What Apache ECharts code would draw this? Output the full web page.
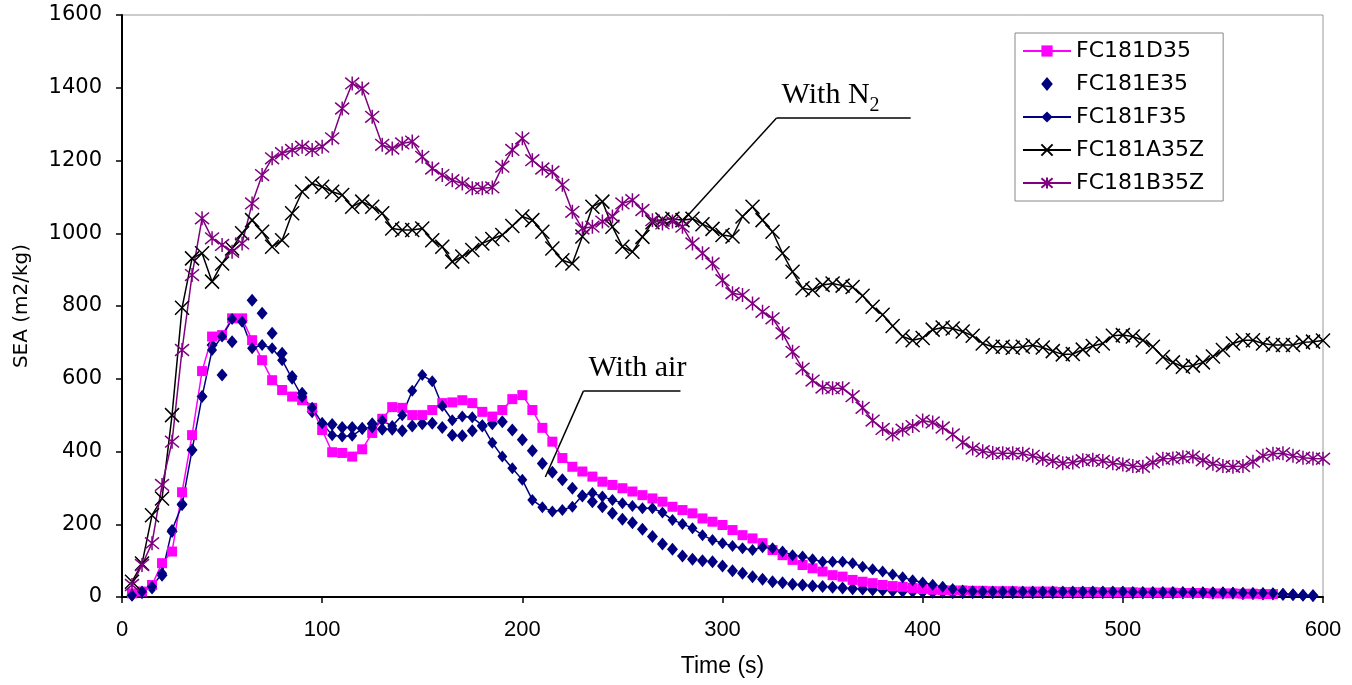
<!DOCTYPE html>
<html><head><meta charset="utf-8">
<script src="https://cdn.jsdelivr.net/npm/echarts@6/dist/echarts.min.js"></script>
<style>html,body{margin:0;padding:0;background:#fff}#c{width:1352px;height:685px}</style>
</head><body><div id="c"></div>
<script>
// Sampling times (s)
const time = [5,10,15,20,25,30,35,40,45,50,55,60,65,70,75,80,85,90,95,100,
105,110,115,120,125,130,135,140,145,150,155,160,165,170,175,180,185,190,195,200,
205,210,215,220,225,230,235,240,245,250,255,260,265,270,275,280,285,290,295,300,
305,310,315,320,325,330,335,340,345,350,355,360,365,370,375,380,385,390,395,400,
405,410,415,420,425,430,435,440,445,450,455,460,465,470,475,480,485,490,495,500,
505,510,515,520,525,530,535,540,545,550,555,560,565,570,575,580,585,590,595,600];

const seriesNames = ['FC181D35','FC181E35','FC181F35','FC181A35Z','FC181B35Z'];

const sD35 = [10,15,33,93,125,288,445,621,716,720,
766,766,706,651,596,569,551,541,520,459,
398,396,386,406,451,490,522,520,500,500,
514,533,535,541,533,509,496,514,544,555,
514,465,427,382,358,345,331,317,308,299,
290,280,271,262,248,239,230,216,207,198,
184,170,161,148,129,115,102,88,79,70,
60,56,47,42,38,33,30,28,25,22,
20,19,18,18,17,17,16,16,16,15,
15,15,15,14,14,14,14,13,13,13,
13,12,12,12,12,11,11,11,10,10,
10,9,9,8,8];

const sE35 = [5,12,25,60,180,255,404,551,693,610,
702,760,816,780,725,670,606,560,509,477,
474,466,466,464,476,461,461,457,470,476,
478,466,445,443,457,470,476,482,459,432,
402,367,343,322,299,278,262,248,230,214,
204,186,166,146,131,113,104,100,97,85,
72,65,56,49,42,39,35,33,30,29,
27,25,23,22,20,19,17,16,15,14,
13,13,12,12,12,12,12,12,12,12,
12,12,12,12,12,12,12,12,12,12,
11,11,11,11,11,11,11,11,10,10,
10,9,9,8,8,7,6,5,4];

const sF35 = [5,15,28,65,184,253,404,551,679,716,
764,757,684,693,684,651,600,550,520,478,
445,441,443,462,466,485,470,500,567,610,
593,525,486,496,494,472,424,386,354,322,
267,247,235,239,248,279,286,276,267,258,
250,244,244,232,212,201,189,170,157,148,
140,134,129,137,134,125,115,111,104,97,
97,97,93,83,76,70,62,54,46,40,
34,28,22,18,16,15,15,15,15,15,
15,15,15,15,15,15,15,15,15,15,
14,14,14,14,14,14,13,13,13,13,
12,12,11,11,10,9,7,5,3];

const sA35Z = [42,92,225,271,500,795,931,945,867,917,
958,1000,1036,1004,963,981,1055,1114,1137,1128,
1114,1105,1073,1087,1073,1055,1013,1009,1009,1013,
981,963,922,936,954,972,984,995,1020,1046,
1036,1004,958,926,917,991,1073,1087,1018,963,
949,990,1030,1038,1040,1036,1040,1025,1012,995,
991,1046,1073,1036,1004,945,894,849,844,858,
862,856,852,828,798,776,745,716,706,712,
735,741,738,730,718,697,688,688,685,688,
692,686,676,667,668,680,690,697,718,720,
716,706,688,660,645,633,636,645,661,679,
697,706,706,697,693,693,693,700,702,705];

const sB35Z = [33,88,148,308,427,679,885,1041,986,968,
949,972,1082,1160,1206,1220,1229,1238,1229,1238,
1261,1343,1412,1398,1320,1243,1233,1247,1252,1210,
1178,1160,1146,1137,1124,1124,1126,1183,1229,1261,
1201,1178,1169,1133,1059,1013,1018,1032,1046,1082,
1091,1064,1036,1027,1032,1018,972,945,917,871,
835,830,807,784,766,725,674,628,595,576,
574,574,552,520,485,462,447,460,470,485,
480,466,447,425,408,401,396,395,395,394,
388,380,374,368,370,376,377,374,368,364,
360,358,370,380,381,384,386,376,366,360,
358,360,372,388,394,395,388,383,381,380];

// Annotation anchors (data units)
const n2Label = [354, 1372], n2Knee = [327, 1317], n2Tip = [280.5, 1036], n2End = [394, 1317];
const airLabel = [257.5, 630], airKnee = [230.5, 566], airTip = [211.5, 330], airEnd = [279, 566];

function pairs(vals){ return vals.map((v,i)=>[time[i], v]); }

const X_PATH = 'path://M0,0L10,10M10,0L0,10';
const AST_PATH = 'path://M0,0L10,10M10,0L0,10M5,-1L5,11';
const DIAMOND_PATH = 'path://M5,0L10,6L5,12L0,6Z';

const chart = echarts.init(document.getElementById('c'), null, {renderer:'canvas'});
chart.setOption({
  animation:false,
  backgroundColor:'#fff',
  grid:{left:122, right:29, top:15, bottom:88, show:true, borderColor:'#999', borderWidth:1, backgroundColor:'transparent'},
  legend:{
    orient:'vertical', left:1015, top:33, itemWidth:48, itemHeight:14, itemGap:11,
    padding:[7,19,7,7], borderColor:'#888', borderWidth:1, backgroundColor:'#fff',
    symbolKeepAspect:true,
    textStyle:{fontFamily:'DejaVu Sans', fontSize:22, color:'#000', lineHeight:21},
    data:[seriesNames[0], {name:seriesNames[1], icon:DIAMOND_PATH, itemStyle:{color:'#000080', opacity:1}}, seriesNames[2], seriesNames[3], seriesNames[4]]
  },
  xAxis:{
    type:'value', min:0, max:600, interval:100,
    name:'Time (s)', nameLocation:'middle', nameGap:58,
    nameTextStyle:{fontFamily:'Liberation Sans', fontSize:23, color:'#000'},
    axisLine:{show:true, lineStyle:{color:'#000', width:2}},
    axisTick:{show:true, length:6, lineStyle:{color:'#000', width:1.5}},
    axisLabel:{fontFamily:'Liberation Sans', fontSize:22, color:'#000', margin:22, formatter:v=>String(v)},
    splitLine:{show:false}
  },
  yAxis:{
    type:'value', min:0, max:1600, interval:200,
    name:'SEA (m2/kg)', nameLocation:'middle', nameGap:90, nameRotate:90,
    nameTextStyle:{fontFamily:'DejaVu Sans', fontSize:20, color:'#000'},
    axisLine:{show:true, lineStyle:{color:'#000', width:2}},
    axisTick:{show:true, length:6, lineStyle:{color:'#000', width:1.5}},
    axisLabel:{fontFamily:'DejaVu Sans', fontSize:21, color:'#000', margin:20, formatter:v=>String(v)},
    splitLine:{show:false}
  },
  series:[
    {name:seriesNames[0], type:'line', data:pairs(sD35), symbol:'rect', symbolSize:10, showAllSymbol:true,
     itemStyle:{color:'#FF00FF'}, lineStyle:{color:'#FF00FF', width:1.5}, emphasis:{disabled:true}},
    {name:seriesNames[1], type:'scatter', data:pairs(sE35), symbol:'diamond', symbolSize:[11,13],
     itemStyle:{color:'#000080', opacity:1}, emphasis:{disabled:true}},
    {name:seriesNames[2], type:'line', data:pairs(sF35), symbol:'diamond', symbolSize:[10,12], showAllSymbol:true,
     itemStyle:{color:'#000080'}, lineStyle:{color:'#000080', width:1.5}, emphasis:{disabled:true}},
    {name:seriesNames[3], type:'line', data:pairs(sA35Z), symbol:X_PATH, symbolSize:14, showAllSymbol:true,
     itemStyle:{color:'#000', borderColor:'#000', borderWidth:1.5}, lineStyle:{color:'#000', width:1.5}, emphasis:{disabled:true},
     markLine:{silent:true, symbol:['none','none'], label:{show:false},
       lineStyle:{color:'#000', width:1.5, type:'solid'},
       data:[[{coord:n2Knee},{coord:n2Tip}],[{coord:n2Knee},{coord:n2End}],
             [{coord:airKnee},{coord:airTip}],[{coord:airKnee},{coord:airEnd}]]},
     markPoint:{silent:true, symbol:'circle', symbolSize:0, itemStyle:{color:'transparent'},
       data:[
         {coord:n2Label, label:{show:true, position:'inside', formatter:'{a|With N}{s|2}',
           rich:{a:{fontFamily:'Liberation Serif', fontSize:30, color:'#000', padding:[0,0,6,0]},
                 s:{fontFamily:'Liberation Serif', fontSize:20, color:'#000', verticalAlign:'bottom'}}}},
         {coord:airLabel, label:{show:true, position:'inside', formatter:'With air',
           fontFamily:'Liberation Serif', fontSize:30, color:'#000'}}
       ]}
    },
    {name:seriesNames[4], type:'line', data:pairs(sB35Z), symbol:AST_PATH, symbolSize:14, showAllSymbol:true,
     itemStyle:{color:'#800080', borderColor:'#800080', borderWidth:1.5}, lineStyle:{color:'#800080', width:1.5}, emphasis:{disabled:true}}
  ]
});
</script></body></html>
